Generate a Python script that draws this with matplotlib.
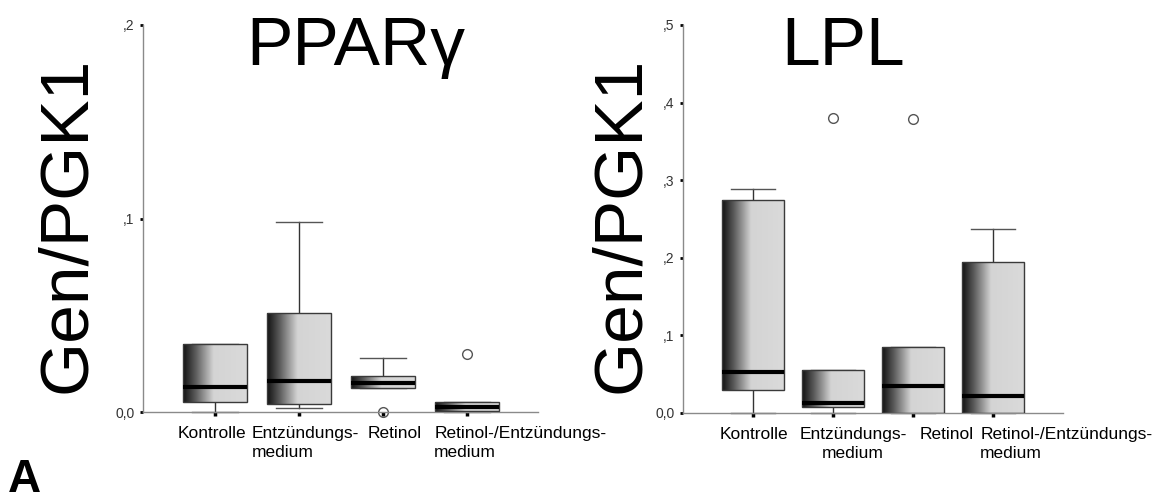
import matplotlib
matplotlib.use("Agg")
import matplotlib.pyplot as plt
import numpy as np
from matplotlib.colors import LinearSegmentedColormap

plt.rcParams['font.family'] = ['Liberation Sans', 'DejaVu Sans']

# categories and tick labels
categories = ["Kontrolle", "Entzündungs-\nmedium", "Retinol", "Retinol-/Entzündungs-\nmedium"]

# PPARgamma box statistics
ppar_q1 = [0.005, 0.004, 0.0125, 0.0005]
ppar_med = [0.013, 0.016, 0.015, 0.0025]
ppar_q3 = [0.035, 0.051, 0.0187, 0.005]
ppar_lo = [0.0, 0.002, 0.0125, 0.0]
ppar_hi = [0.035, 0.098, 0.028, 0.005]
ppar_fliers = [[], [], [0.0], [0.030]]
ppar_yticks = [0.0, 0.1, 0.2]
ppar_yticklabels = ["0,0", ",1", ",2"]

# LPL box statistics
lpl_q1 = [0.030, 0.008, 0.0, 0.0]
lpl_med = [0.053, 0.013, 0.035, 0.022]
lpl_q3 = [0.274, 0.056, 0.085, 0.195]
lpl_lo = [0.0, 0.0, 0.0, 0.0]
lpl_hi = [0.289, 0.056, 0.085, 0.237]
lpl_fliers = [[], [0.380], [0.379], []]
lpl_yticks = [0.0, 0.1, 0.2, 0.3, 0.4, 0.5]
lpl_yticklabels = ["0,0", ",1", ",2", ",3", ",4", ",5"]

shade = LinearSegmentedColormap.from_list(
    "shade", [(0, "#111111"), (0.2, "#5e5e5e"), (0.47, "#d4d4d4"), (1, "#dadada")])


def draw_panel(ax, q1, med, q3, lo, hi, fliers, yticks, yticklabels, xlim, label_x, label_align):
    """
    Draws one SPSS style box plot panel with shaded boxes.
    """
    stats = []
    for i in range(len(med)):
        stats.append({"q1": q1[i], "med": med[i], "q3": q3[i],
                      "whislo": lo[i], "whishi": hi[i], "fliers": fliers[i]})

    bp = ax.bxp(stats, positions=range(1, len(med) + 1), widths=0.77,
                capwidths=0.55, patch_artist=True,
                boxprops=dict(facecolor="none", edgecolor="#3a3a3a", linewidth=1.0, zorder=3),
                medianprops=dict(color="black", linewidth=3, solid_capstyle="butt", zorder=4),
                whiskerprops=dict(color="#333333", linewidth=1.0),
                capprops=dict(color="#555555", linewidth=1.0),
                flierprops=dict(marker="o", markersize=7, markerfacecolor="none",
                                markeredgecolor="#555555", markeredgewidth=1.0))

    gradient = np.linspace(0, 1, 256).reshape(1, -1)
    for box in bp["boxes"]:
        ext = box.get_path().get_extents()
        im = ax.imshow(gradient, extent=[ext.x0, ext.x1, ext.y0, ext.y1],
                       aspect="auto", cmap=shade, zorder=2, interpolation="bilinear")
        im.set_clip_path(box)

    for artist in bp["fliers"] + bp["caps"] + bp["whiskers"] + bp["medians"]:
        artist.set_clip_on(False)

    ax.set_xlim(xlim)
    ax.set_ylim(yticks[0], yticks[-1])
    ax.set_yticks(yticks)
    ax.set_yticklabels(yticklabels)
    ax.set_xticks(range(1, len(med) + 1))
    ax.set_xticklabels([])

    for side in ["top", "right"]:
        ax.spines[side].set_visible(False)
    for side in ["left", "bottom"]:
        ax.spines[side].set_color("#8a8a8a")
        ax.spines[side].set_linewidth(1.0)
    ax.tick_params(axis="y", length=2, width=2, color="black", labelsize=10,
                   labelcolor="#333333", pad=4)
    ax.tick_params(axis="x", length=3, width=2.5, color="black")

    for x, text, align in zip(label_x, categories, label_align):
        ax.text(x, -0.036, text, transform=ax.get_xaxis_transform(), ha="left", va="top",
                fontsize=12.5, multialignment=align, linespacing=1.3)


fig = plt.figure(figsize=(11.64, 5.0), dpi=100)
ax1 = fig.add_axes([143 / 1164, 88 / 500, 395 / 1164, 387 / 500])
ax2 = fig.add_axes([683 / 1164, 87 / 500, 380 / 1164, 388 / 500])

draw_panel(ax1, ppar_q1, ppar_med, ppar_q3, ppar_lo, ppar_hi, ppar_fliers,
           ppar_yticks, ppar_yticklabels, (0.143, 4.845),
           [0.56, 1.44, 2.82, 3.61], ["left", "left", "left", "left"])
draw_panel(ax2, lpl_q1, lpl_med, lpl_q3, lpl_lo, lpl_hi, lpl_fliers,
           lpl_yticks, lpl_yticklabels, (0.125, 4.875),
           [0.58, 1.58, 3.08, 3.84], ["left", "center", "left", "left"])

# big titles and axis labels
fig.text(356 / 1164, 1 - 65 / 500, "PPARγ", ha="center", va="baseline", fontsize=50)
fig.text(843 / 1164, 1 - 65 / 500, "LPL", ha="center", va="baseline", fontsize=50)
fig.text(67 / 1164, 0.55, "Gen/PGK1", rotation=90, ha="center", va="center", fontsize=50)
fig.text(621 / 1164, 0.55, "Gen/PGK1", rotation=90, ha="center", va="center", fontsize=50)
fig.text(8 / 1164, 1 - 492 / 500, "A", ha="left", va="baseline", fontsize=33, fontweight="bold")

plt.savefig("out.png", dpi=100)
plt.close()
